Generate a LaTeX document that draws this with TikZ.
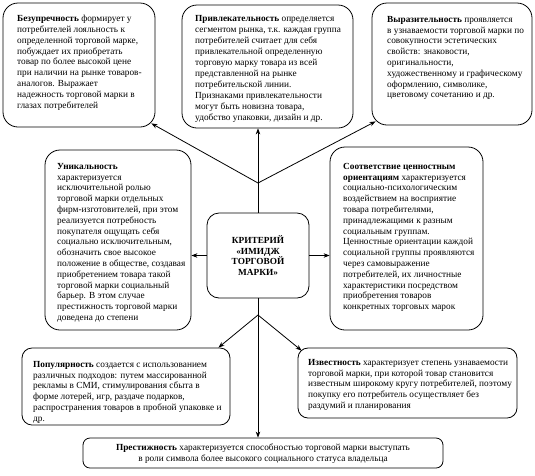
\documentclass[tikz,border=0pt]{standalone}
\usepackage{fontspec}
\setmainfont{Liberation Serif}
\usetikzlibrary{arrows.meta}
\begin{document}
\begin{tikzpicture}[x=1pt,y=-1pt,
  box/.style={draw, line width=0.8pt, inner sep=0pt},
  txt/.style={anchor=north west, align=left, inner sep=0pt, font=\fontsize{9.3}{10.8}\selectfont},
  arr/.style={-{Stealth[length=6pt,width=4.5pt]}, line width=0.8pt},
  ln/.style={line width=0.8pt}]
\useasboundingbox (0,0) rectangle (535,475);

% boxes
\node[box, rounded corners=15pt, minimum width=152pt, minimum height=124pt] (b1) at (79,65) {};
\node[box, rounded corners=15pt, minimum width=171pt, minimum height=123pt] (b2) at (267.5,66.5) {};
\node[box, rounded corners=15pt, minimum width=160pt, minimum height=122pt] (b3) at (452,64) {};
\node[box, rounded corners=15pt, minimum width=146pt, minimum height=180pt] (b4) at (118,240) {};
\node[box, rounded corners=15pt, minimum width=153pt, minimum height=183pt] (b5) at (406.5,238.5) {};
\node[box, rounded corners=12pt, minimum width=102pt, minimum height=85pt] (c) at (258,255.5) {};
\node[box, rounded corners=10pt, minimum width=208pt, minimum height=77pt] (b7) at (126,386.5) {};
\node[box, rounded corners=10pt, minimum width=219pt, minimum height=70pt] (b8) at (407.5,383) {};
\node[box, rounded corners=7pt, minimum width=360pt, minimum height=30pt] (b9) at (263,453) {};

% texts
\node[txt] (t1) at (17,15) {\textbf{Безупречность} формирует у\\потребителей лояльность к\\определенной торговой марке,\\побуждает их приобретать\\товар по более высокой цене\\при наличии на рынке товаров-\\аналогов. Выражает\\надежность торговой марки в\\глазах потребителей};
\node[txt, font=\fontsize{9.3}{11}\selectfont] (t2) at (195,15) {\textbf{Привлекательность} определяется\\сегментом рынка, т.к. каждая группа\\потребителей считает для себя\\привлекательной определенную\\торговую марку товара из всей\\представленной на рынке\\потребительской линии.\\Признаками привлекательности\\могут быть новизна товара,\\удобство упаковки, дизайн и др.};
\node[txt] (t3) at (387,16) {\textbf{Выразительность} проявляется\\в узнаваемости торговой марки по\\совокупности эстетических\\свойств: знаковости,\\оригинальности,\\художественному и графическому\\оформлению, символике,\\цветовому сочетанию и др.};
\node[txt] (t4) at (57,163) {\textbf{Уникальность}\\характеризуется\\исключительной ролью\\торговой марки отдельных\\фирм-изготовителей, при этом\\реализуется потребность\\покупателя ощущать себя\\социально исключительным,\\обозначить свое высокое\\положение в обществе, создавая\\приобретением товара такой\\торговой марки социальный\\барьер. В этом случае\\престижность торговой марки\\доведена до степени};
\node[txt] (t5) at (343,163) {\textbf{Соответствие ценностным}\\\textbf{ориентациям} характеризуется\\социально-психологическим\\воздействием на восприятие\\товара потребителями,\\принадлежащими к разным\\социальным группам.\\Ценностные ориентации каждой\\социальной группы проявляются\\через самовыражение\\потребителей, их личностные\\характеристики посредством\\приобретения товаров\\конкретных торговых марок};
\node[txt, anchor=center, align=center, font=\fontsize{9.3}{10.5}\selectfont\bfseries] (tc) at (c) {КРИТЕРИЙ\\«ИМИДЖ\\ТОРГОВОЙ\\МАРКИ»};
\node[txt] (t7) at (33,361) {\textbf{Популярность} создается с использованием\\различных подходов: путем массированной\\рекламы в СМИ, стимулирования сбыта в\\форме лотерей, игр, раздаче подарков,\\распространения товаров в пробной упаковке и\\др.};
\node[txt] (t8) at (308,359) {\textbf{Известность} характеризует степень узнаваемости\\торговой марки, при которой товар становится\\известным широкому кругу потребителей, поэтому\\покупку его потребитель осуществляет без\\раздумий и планирования};
\node[txt, anchor=center, align=center] (t9) at (263,453.5) {\textbf{Престижность} характеризуется способностью торговой марки выступать\\в роли символа более высокого социального статуса владельца};

% junctions
\coordinate (j1) at (258,183);
\coordinate (j2) at (258,315);

% connectors
\draw[ln] (c.north) -- (j1);
\draw[arr] (j1) -- ([shift={(-4,-4)}]b1.south east);
\draw[arr] (j1) -- (j1 |- b2.south);
\draw[arr] (j1) -- ([shift={(4,-4)}]b3.south west);
\draw[arr] (c.west) -- (c.west -| b4.east);
\draw[arr] (c.east) -- (c.east -| b5.west);
\draw[ln] (c.south) -- (j2);
\draw[arr] (j2) -- ([shift={(-12,0)}]b7.north east);
\draw[arr] (j2) -- ([shift={(4,3)}]b8.north west);
\draw[arr] (j2) -- (j2 |- b9.north);
\end{tikzpicture}
\end{document}
